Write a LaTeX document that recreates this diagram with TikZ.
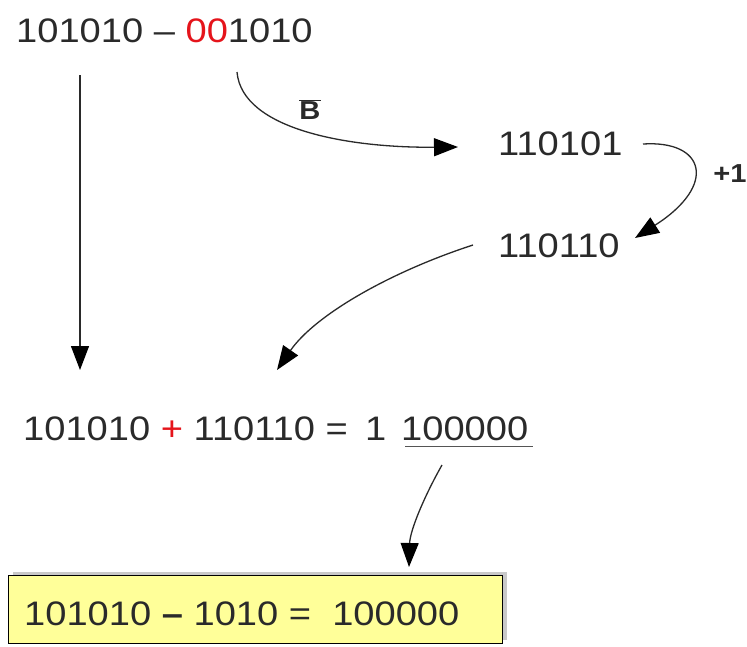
\documentclass[tikz,border=0pt]{standalone}
\usepackage{fontspec}
\setmainfont{Liberation Sans}
\newfontfamily\wide[FakeStretch=1.12]{Liberation Sans}
\usetikzlibrary{arrows.meta,shadows}
\definecolor{txt}{HTML}{2A2A2A}
\definecolor{redd}{HTML}{E5141B}
\definecolor{boxy}{HTML}{FFFF99}
\tikzset{
  num/.style={anchor=base west,inner sep=0pt,text=txt,font=\wide\fontsize{34}{40}\selectfont},
  lbl/.style={inner sep=0pt,text=txt,font=\wide\bfseries\fontsize{26}{30}\selectfont},
  bigtip/.tip={Triangle[length=24pt,width=18pt,color=black,fill=black]},
  arr/.style={draw=txt,line width=1.3pt,arrows={-bigtip}},
  resbox/.style={draw=black,line width=0.8pt,fill=boxy,
    drop shadow={shadow xshift=5pt,shadow yshift=3pt,fill=black!35,opacity=0.6}}
}
\begin{document}
\begin{tikzpicture}[x=1pt,y=-1pt]
\useasboundingbox (0,0) rectangle (747,646);
\fill[white] (0,0) rectangle (747,646);
% texts
\node[num] (top) at (16,42) {101010 – {\color{redd}00}1010};
\node[num] (nb) at (498,155) {110101};
\node[num] (nc) at (498,257) {110110};
\node[num] (sum) at (23,440) {101010 {\color{redd}+} 110110 =};
\node[num] (one) at (365,440) {1};
\node[num] (res) at (401,440) {100000};
\draw[txt!80,line width=1.2pt] (405,446.5) -- (533,446.5);
% box
\node[resbox,minimum width=494pt,minimum height=68pt,anchor=north west,inner sep=0pt] (box) at (8,575) {};
\node[num] (boxt) at (24,625) {101010 \textbf{–} 1010 = \ 100000};
% labels
\node[lbl] (lb) at (310,110) {$\overline{\mbox{B}}$};
\node[lbl] (lp) at (730,174) {+1};
% coordinates
\coordinate (s1) at (80,75);
\coordinate (e1) at (80,370);
\coordinate (s2) at (237,72);
\coordinate (e2) at (458,147);
\coordinate (s3) at (643,144);
\coordinate (e3) at (635,238);
\coordinate (s4) at (473,245);
\coordinate (e4) at (277,370);
\coordinate (s5) at (442,465);
\coordinate (e5) at (409,567);
% connectors
\draw[arr] (s1) -- (e1);
\draw[arr] (s2) .. controls (242,130) and (350,148) .. (e2);
\draw[arr] (s3) .. controls (705,140) and (718,185) .. (e3);
\draw[arr] (s4) .. controls (390,272) and (315,315) .. (e4);
\draw[arr] (s5) .. controls (425,495) and (410,530) .. (e5);
\end{tikzpicture}
\end{document}
